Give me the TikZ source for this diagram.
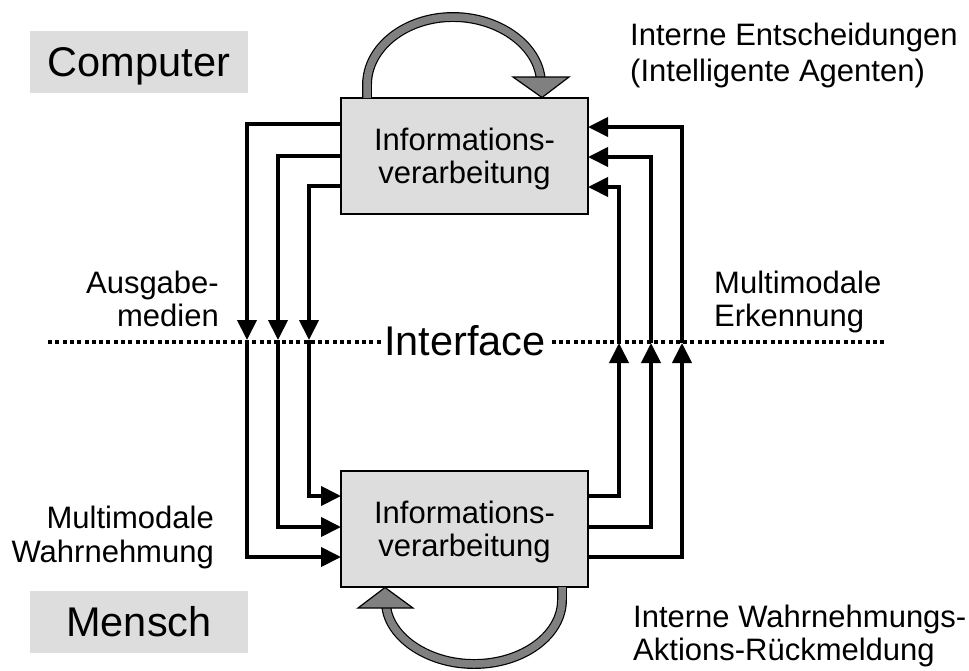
\documentclass[tikz,border=0pt]{standalone}
\usepackage{fontspec}
\setmainfont{Liberation Sans}
\usetikzlibrary{arrows.meta}
\definecolor{boxgray}{gray}{0.867}
\definecolor{loopgray}{gray}{0.5}
\begin{document}
\begin{tikzpicture}[x=1pt,y=-1pt,
  infobox/.style={draw=black,line width=1.2pt,fill=boxgray,minimum width=247pt,minimum height=116pt,
    inner sep=0pt,outer sep=0pt,align=center,font=\fontsize{31}{33}\selectfont,text depth=0pt},
  tagbox/.style={fill=boxgray,minimum width=218pt,minimum height=62pt,inner sep=0pt,
    font=\fontsize{41.5}{45}\selectfont,text height=29.5pt,text depth=0pt},
  lbl/.style={inner sep=0pt,font=\fontsize{31}{#1}\selectfont},
  lbl/.default=33,
  iface/.style={fill=white,inner xsep=3pt,inner ysep=2pt,font=\fontsize{41.5}{45}\selectfont,text height=29.5pt,text depth=0pt},
  conn/.style={line width=4pt,-{Triangle[length=20pt,width=19pt]}},
  dotline/.style={line width=3.5pt,dash pattern=on 4pt off 3.3pt},
  loopshaft/.style={draw=black,line width=1.2pt,double=loopgray,double distance=7.5pt},
  loophead/.style={fill=loopgray,draw=black,line width=1.2pt,line join=miter}
]
\useasboundingbox (0,0) rectangle (969,670);

% interface line
\coordinate (dl) at (48,342);
\coordinate (dr) at (885,342);
\draw[dotline] (dl) -- (dr);
\node[iface] (interface) at (465,341) {Interface};

% boxes
\node[infobox] (top) at (464.5,156) {Informations-\\verarbeitung};
\node[infobox] (bot) at (464.5,529) {Informations-\\verarbeitung};
\node[tagbox] (computer) at (139,62) {Computer};
\node[tagbox] (mensch) at (139,621.5) {Mensch};

% crossing points at the interface
\coordinate (d1) at (247,340);
\coordinate (d2) at (278,340);
\coordinate (d3) at (309,340);
\coordinate (u1) at (619,343);
\coordinate (u2) at (651,343);
\coordinate (u3) at (682,343);

% output media (computer -> human)
\draw[conn] ([yshift=32pt]top.west) -| (d1);
\draw[conn] (d1) |- ([yshift=-28pt]bot.west);
\draw[conn] ([yshift=0pt]top.west) -| (d2);
\draw[conn] (d2) |- ([yshift=2pt]bot.west);
\draw[conn] ([yshift=-30pt]top.west) -| (d3);
\draw[conn] (d3) |- ([yshift=33pt]bot.west);

% recognition (human -> computer)
\draw[conn] ([yshift=33pt]bot.east) -| (u1);
\draw[conn] (u1) |- ([yshift=-31pt]top.east);
\draw[conn] ([yshift=2pt]bot.east) -| (u2);
\draw[conn] (u2) |- ([yshift=-1pt]top.east);
\draw[conn] ([yshift=-28pt]bot.east) -| (u3);
\draw[conn] (u3) |- ([yshift=29pt]top.east);

% loops
\draw[loopshaft] (367,98) -- (367,85) .. controls (367,47) and (406,17) .. (453,17)
  .. controls (500,17) and (541,47) .. (541,84);
\filldraw[loophead] (513,77) -- (569,77) -- (542,97.5) -- cycle;

\draw[loopshaft] (562,587) -- (562,600) .. controls (562,635) and (523,664) .. (474,664)
  .. controls (426,664) and (386,635) .. (386,602);
\filldraw[loophead] (358,608) -- (413,608) -- (385,587.5) -- cycle;

% labels
\node[lbl=36,anchor=north west,align=left] (ie) at (630,23) {Interne Entscheidungen\\(Intelligente Agenten)};
\node[lbl=33,anchor=north east,align=right] (ag) at (219,271) {Ausgabe-\\medien};
\node[lbl=33,anchor=north west,align=left] (me) at (714,271) {Multimodale\\Erkennung};
\node[lbl=34,anchor=north east,align=right] (mw) at (214,506) {Multimodale\\Wahrnehmung};
\node[lbl=33,anchor=north west,align=left] (iw) at (633,605) {Interne Wahrnehmungs-\\Aktions-Rückmeldung};
\end{tikzpicture}
\end{document}
